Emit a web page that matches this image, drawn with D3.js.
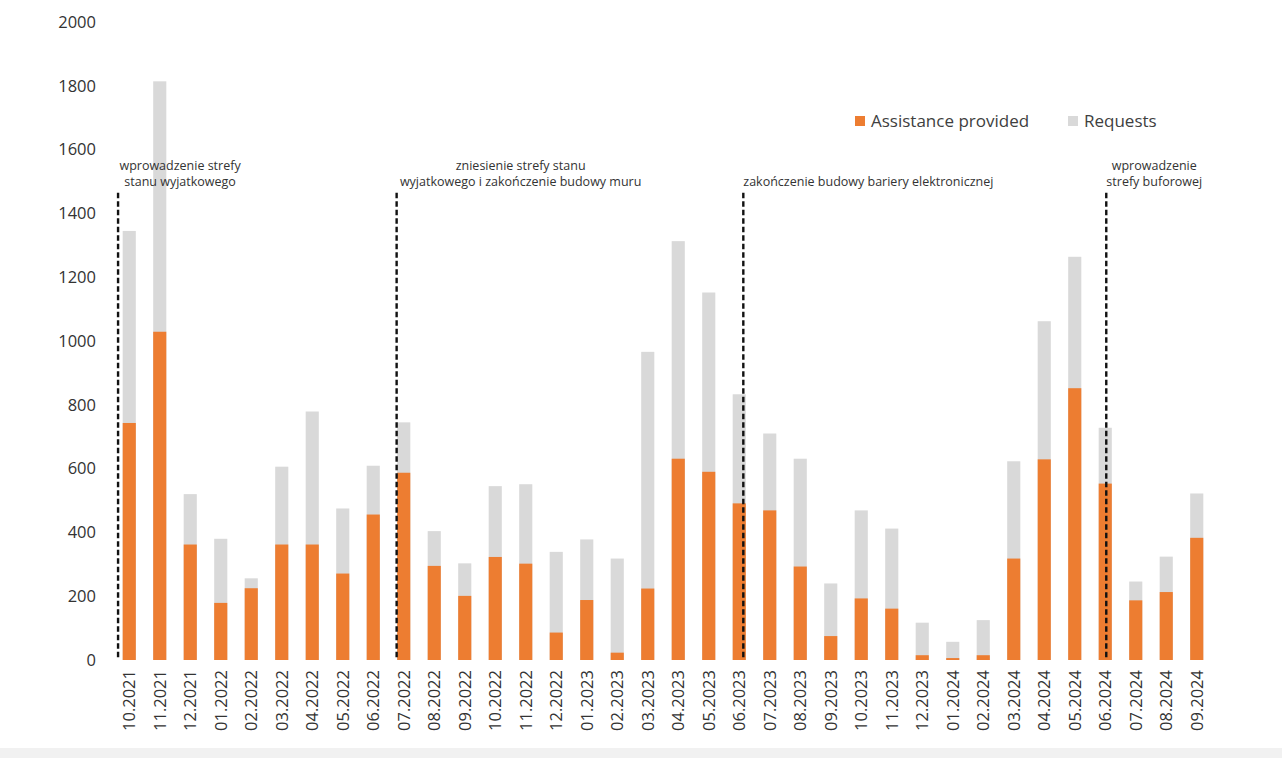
<!DOCTYPE html>
<html>
<head>
<meta charset="utf-8">
<script src="https://cdn.jsdelivr.net/npm/d3@7"></script>
<style>
  body { margin: 0; background: #fff; }
  svg { display: block; font-family: "Open Sans", "Noto Sans", sans-serif; }
</style>
</head>
<body>
<div id="chart"></div>
<script>
const months = ["10.2021","11.2021","12.2021","01.2022","02.2022","03.2022","04.2022","05.2022","06.2022",
    "07.2022","08.2022","09.2022","10.2022","11.2022","12.2022","01.2023","02.2023","03.2023","04.2023",
    "05.2023","06.2023","07.2023","08.2023","09.2023","10.2023","11.2023","12.2023","01.2024","02.2024",
    "03.2024","04.2024","05.2024","06.2024","07.2024","08.2024","09.2024"];

const requests = [1345, 1814, 520, 380, 256, 606, 779, 475, 609,
    745, 404, 303, 545, 551, 339, 378, 318, 966, 1313,
    1152, 833, 710, 631, 240, 469, 412, 117, 57, 125,
    623, 1062, 1264, 728, 246, 324, 522];

const assistance = [743, 1029, 362, 179, 225, 362, 362, 271, 456,
    587, 295, 201, 323, 302, 86, 188, 23, 224, 631,
    590, 491, 469, 293, 75, 193, 161, 15, 6, 15,
    318, 629, 852, 553, 187, 213, 383];

const yTicks = [0, 200, 400, 600, 800, 1000, 1200, 1400, 1600, 1800, 2000];

// event month, day within month, label lines
const eventMonths = ["10.2021", "07.2022", "06.2023", "06.2024"];
const eventDays = [4, 8, 19, 16];
const eventLabels = [
    ["wprowadzenie strefy", "stanu wyjatkowego"],
    ["zniesienie strefy stanu", "wyjatkowego i zakończenie budowy muru"],
    ["zakończenie budowy bariery elektronicznej"],
    ["wprowadzenie", "strefy buforowej"]
];

const seriesNames = ["Assistance provided", "Requests"];
const colors = { assistance: "#ED7D31", requests: "#D9D9D9" };

const W = 1282, H = 758;
const margin = { top: 22, right: 70, bottom: 98, left: 114 };

const svg = d3.select("#chart").append("svg")
    .attr("width", W)
    .attr("height", H);

// faint grey strip at the bottom of the picture
svg.append("rect")
    .attr("x", 0).attr("y", 748)
    .attr("width", W).attr("height", H - 748)
    .attr("fill", "#f1f1f1");

const x = d3.scaleBand()
    .domain(months)
    .range([margin.left, W - margin.right])
    .paddingInner(0.57)
    .paddingOuter(0.285);

const y = d3.scaleLinear()
    .domain([0, 2000])
    .range([H - margin.bottom, margin.top]);

// Y axis (labels only)
const yAxis = svg.append("g")
    .attr("transform", `translate(${margin.left - 11},0)`)
    .call(d3.axisLeft(y).tickValues(yTicks).tickFormat(d3.format("d")).tickSize(0).tickPadding(7));
yAxis.select(".domain").remove();
yAxis.selectAll("text")
    .attr("font-size", 16.5)
    .attr("fill", "#333")
    .attr("font-family", "Open Sans, sans-serif");

// Bars: requests behind, assistance in front
svg.append("g").selectAll("rect")
    .data(months)
    .join("rect")
    .attr("x", d => x(d))
    .attr("width", x.bandwidth())
    .attr("y", (d, i) => y(requests[i]))
    .attr("height", (d, i) => y(0) - y(requests[i]))
    .attr("fill", colors.requests);

svg.append("g").selectAll("rect")
    .data(months)
    .join("rect")
    .attr("x", d => x(d))
    .attr("width", x.bandwidth())
    .attr("y", (d, i) => y(assistance[i]))
    .attr("height", (d, i) => y(0) - y(assistance[i]))
    .attr("fill", colors.assistance);

// X axis labels
const xAxis = svg.append("g")
    .attr("transform", `translate(0,${y(0)})`)
    .call(d3.axisBottom(x).tickSize(0).tickPadding(0));
xAxis.select(".domain").remove();
xAxis.selectAll("text")
    .attr("font-size", 16.5)
    .attr("fill", "#333")
    .attr("font-family", "Open Sans, sans-serif")
    .attr("transform", "rotate(-90)")
    .attr("text-anchor", "end")
    .attr("dy", "0.35em")
    .attr("x", -10)
    .attr("y", 0);

// Event lines
const step = x.step();
const eventX = eventMonths.map((m, i) => x(m) + x.bandwidth() / 2 - step / 2 + step * eventDays[i] / 30);

const ev = svg.append("g");
ev.selectAll("line")
    .data(eventMonths)
    .join("line")
    .attr("x1", (d, i) => eventX[i])
    .attr("x2", (d, i) => eventX[i])
    .attr("y1", y(1465))
    .attr("y2", y(0))
    .attr("stroke", "#111")
    .attr("stroke-width", 2.4)
    .attr("stroke-dasharray", "5.5 3");

// Event labels
const labelAnchor = ["middle", "middle", "start", "middle"];
const labelShift = [62, 124, 0, 48];
eventLabels.forEach((lines, i) => {
    const t = ev.append("text")
        .attr("font-size", 12.5)
        .attr("fill", "#333")
        .attr("text-anchor", labelAnchor[i]);
    const startLine = 2 - lines.length;
    lines.forEach((s, j) => {
        t.append("tspan")
            .attr("x", eventX[i] + labelShift[i])
            .attr("y", y(1535) + (startLine + j - 1) * 16 + 16)
            .text(s);
    });
});

// Legend
const legend = svg.append("g").attr("transform", "translate(855,121)");
const legendItems = [
    { name: seriesNames[0], color: colors.assistance, dx: 0 },
    { name: seriesNames[1], color: colors.requests, dx: 213 }
];
legendItems.forEach(it => {
    const g = legend.append("g").attr("transform", `translate(${it.dx},0)`);
    g.append("rect")
        .attr("x", 0).attr("y", -5)
        .attr("width", 10).attr("height", 10)
        .attr("fill", it.color);
    g.append("text")
        .attr("x", 16).attr("y", 0)
        .attr("dy", "0.35em")
        .attr("font-size", 17)
        .attr("fill", "#404040")
        .text(it.name);
});
</script>
</body>
</html>
